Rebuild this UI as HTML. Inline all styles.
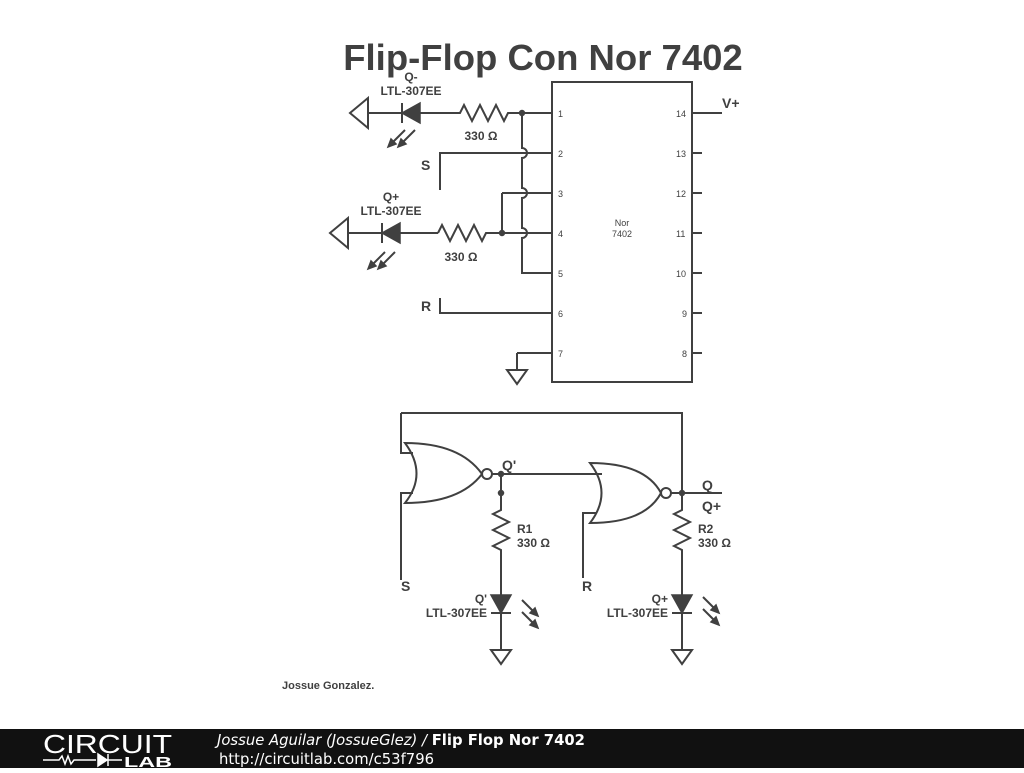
<!DOCTYPE html>
<html><head><style>
body{margin:0;width:1024px;height:768px;background:#fff;overflow:hidden;font-family:"Liberation Sans",sans-serif}
</style></head><body>
<svg width="1024" height="768" viewBox="0 0 1024 768" xmlns="http://www.w3.org/2000/svg" font-family="Liberation Sans, sans-serif">
<rect width="1024" height="768" fill="#fff"/>
<text x="543" y="70" text-anchor="middle" font-size="36.5" font-weight="bold" fill="#404040">Flip-Flop Con Nor 7402</text>
<g stroke="#404040" stroke-width="2" fill="none">
<rect x="552" y="82" width="140" height="300"/>
<path d="M532 113H552M532 153H552M532 193H552M532 233H552M532 273H552M532 313H552M532 353H552"/>
<path d="M692 113H722M692 153H702M692 193H702M692 233H702M692 273H702M692 313H702M692 353H702"/>
<path d="M368 113H402M420 113H460l4 -8 8 16 8 -16 8 16 8 -16 8 16 4 -8H532"/>
<path d="M368 98V128L350 113Z"/>
<path d="M522 113V148a5 5 0 0 1 0 10V188a5 5 0 0 1 0 10V228a5 5 0 0 1 0 10V273H532"/>
<path d="M440 190V153H532M502 193H532M502 193V233M490 233H532"/>
<path d="M438 233l4 -8 8 16 8 -16 8 16 8 -16 8 16 4 -8H490"/>
<path d="M348 233H382M400 233H438"/>
<path d="M348 218V248L330 233Z"/>
<path d="M440 298V313H532"/>
<path d="M517 353H532M517 353V370M507 370H527L517 384Z"/>
<path d="M405 130l-14 14M415 130l-14 14M385 252l-14 14M395 252l-14 14"/>
<path d="M401 413H682V493M401 413V453H413M401 580V493H413"/>
<path d="M405 443Q460 443 482 474Q460 503 405 503Q428 474 405 443Z"/>
<circle cx="487" cy="474" r="5"/>
<path d="M492 474H602"/>
<path d="M590 463Q645 463 661 493Q645 523 590 523Q613 493 590 463Z"/>
<circle cx="666" cy="493" r="5"/>
<path d="M671 493H722"/>
<path d="M583 578V513H597"/>
<path d="M501 474V510l-8 4 16 8 -16 8 16 8 -16 8 8 4V595M501 613V650M491 650H511L501 664Z"/>
<path d="M682 493V510l-8 4 16 8 -16 8 16 8 -16 8 8 4V595M682 613V650M672 650H692L682 664Z"/>
<path d="M491 613H511M672 613H692"/>
<path d="M522 600l14 14M522 612l14 14M703 597l14 14M703 609l14 14"/>
</g>
<g fill="#404040" stroke="#404040" stroke-width="1.5">
<path d="M402 113l18 -10v20z"/><path d="M402 103v20" stroke-width="2"/>
<path d="M382 233l18 -10v20z"/><path d="M382 223v20" stroke-width="2"/>
<path d="M491 595h20l-10 18z"/><path d="M672 595h20l-10 18z"/>
<circle cx="522" cy="113" r="2.5"/><circle cx="502" cy="233" r="2.5"/>
<circle cx="501" cy="474" r="2.5"/><circle cx="501" cy="493" r="2.5"/><circle cx="682" cy="493" r="2.5"/>
<path d="M388 147l3 -8 5 5z M398 147l3 -8 5 5z M368 269l3 -8 5 5z M378 269l3 -8 5 5z M538 616l-8 -3 5 -5z M538 628l-8 -3 5 -5z M719 613l-8 -3 5 -5z M719 625l-8 -3 5 -5z"/>
</g>
<g fill="#404040" font-size="9">
<text x="558" y="117">1</text><text x="558" y="157">2</text><text x="558" y="197">3</text><text x="558" y="237">4</text><text x="558" y="277">5</text><text x="558" y="317">6</text><text x="558" y="357">7</text>
<text x="676" y="117">14</text><text x="676" y="157">13</text><text x="676" y="197">12</text><text x="676" y="237">11</text><text x="676" y="277">10</text><text x="682" y="317">9</text><text x="682" y="357">8</text>
<text x="622" y="226" text-anchor="middle">Nor</text><text x="622" y="237" text-anchor="middle">7402</text>
</g>
<g fill="#404040" font-size="12" font-weight="bold">
<text x="411" y="81" text-anchor="middle">Q-</text><text x="411" y="95" text-anchor="middle">LTL-307EE</text>
<text x="481" y="140" text-anchor="middle">330 Ω</text>
<text x="391" y="201" text-anchor="middle">Q+</text><text x="391" y="215" text-anchor="middle">LTL-307EE</text>
<text x="461" y="261" text-anchor="middle">330 Ω</text>
<text x="722" y="108" font-size="14">V+</text>
<text x="421" y="170" font-size="14">S</text><text x="421" y="311" font-size="14">R</text>
<text x="502" y="470" font-size="14">Q'</text>
<text x="702" y="490" font-size="14">Q</text><text x="702" y="511" font-size="14">Q+</text>
<text x="517" y="533">R1</text><text x="517" y="547">330 Ω</text>
<text x="698" y="533">R2</text><text x="698" y="547">330 Ω</text>
<text x="401" y="591" font-size="14">S</text><text x="582" y="591" font-size="14">R</text>
<text x="487" y="603" text-anchor="end">Q'</text><text x="487" y="617" text-anchor="end">LTL-307EE</text>
<text x="668" y="603" text-anchor="end">Q+</text><text x="668" y="617" text-anchor="end">LTL-307EE</text>
<text x="282" y="689" font-size="11">Jossue Gonzalez.</text>
</g>
<rect x="0" y="729" width="1024" height="39" fill="#111"/>
<text x="43" y="753" fill="#fff" font-size="26" textLength="129" lengthAdjust="spacingAndGlyphs">CIRCUIT</text>
<path d="M43 760h16l3 -4 3 8 3 -8 3 8 3 -4h22M108 760h14" stroke="#fff" stroke-width="1.5" fill="none"/>
<path d="M98 754v12l9 -6z M108 754v12" fill="#fff" stroke="#fff" stroke-width="1.5"/>
<text x="124" y="767" fill="#fff" font-size="15" font-weight="bold" textLength="48" lengthAdjust="spacingAndGlyphs">LAB</text>
<text x="217" y="745" fill="#fff" font-size="14.8" font-style="italic" font-family="DejaVu Sans, sans-serif">Jossue Aguilar (JossueGlez) / <tspan font-weight="bold" font-style="normal">Flip Flop Nor 7402</tspan></text>
<text x="219" y="764" fill="#fff" font-size="14.8" font-family="DejaVu Sans, sans-serif">http://circuitlab.com/c53f796</text>
</svg>
</body></html>
